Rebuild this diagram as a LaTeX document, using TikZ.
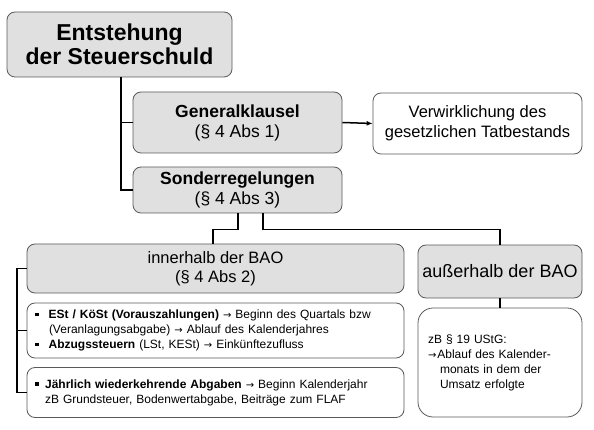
\documentclass[tikz,border=0pt]{standalone}
\usepackage{fontspec}
\setmainfont{Liberation Sans}
\newfontfamily\pfeilfont{DejaVu Sans}
\usepackage{tikz}
\usetikzlibrary{positioning, arrows.meta}
\definecolor{BoxGray}{RGB}{224,224,224}
\definecolor{LineGray}{RGB}{90,90,90}
\newcommand{\sqbullet}{\rule[0.2em]{0.3em}{0.3em}}
\newcommand{\pf}{{\pfeilfont\fontsize{10}{10}\selectfont →}}

\begin{document}
\begin{tikzpicture}[x=1pt, y=-1pt,
  box/.style={rectangle, rounded corners=8pt, draw=LineGray, line width=0.8pt, fill=BoxGray, align=center, inner sep=2pt},
  note/.style={rectangle, rounded corners=8pt, draw=LineGray, line width=0.8pt, fill=white, inner sep=2pt},
  liste/.style={note, align=left, inner xsep=8pt, text width=361pt, minimum width=377pt, font=\fontsize{12}{15}\selectfont},
  link/.style={line width=1.5pt, black},
  arrow/.style={-{Latex[length=6pt,width=5pt]}, line width=1.5pt, black}
]
\useasboundingbox (0,0) rectangle (594,430);

\node[box, minimum width=225pt, minimum height=65pt, font=\fontsize{23}{23.5}\selectfont\bfseries] (entst) at (119.5,44.5) {Entstehung\\der Steuerschuld};
\node[box, minimum width=209pt, minimum height=61pt, font=\fontsize{17.5}{20}\selectfont] (general) at (237.5,122.5) {\textbf{Generalklausel}\\(§ 4 Abs 1)};
\node[box, minimum width=209pt, minimum height=46pt, font=\fontsize{17.5}{20}\selectfont] (sonder) at (237.5,190) {\textbf{Sonderregelungen}\\(§ 4 Abs 3)};
\node[note, align=center, minimum width=209pt, minimum height=61pt, font=\fontsize{16.5}{20}\selectfont] (tatbestand) at (477.5,123.5) {Verwirklichung des\\gesetzlichen Tatbestands};

\node[box, minimum width=377pt, minimum height=49pt, font=\fontsize{16.5}{19}\selectfont] (innerhalb) at (215.5,268.5) {innerhalb der BAO\\(§ 4 Abs 2)};
\node[box, minimum width=164pt, minimum height=53pt, font=\fontsize{18}{20}\selectfont] (ausserhalb) at (500,271.5) {außerhalb der BAO};

\node[liste, minimum height=55pt] (est) at (215.5,330.5) {%
  \sqbullet\hspace{10pt}\textbf{ESt / KöSt (Vorauszahlungen)} \pf{} Beginn des Quartals bzw\\
  \hspace{14pt}(Veranlagungsabgabe) \pf{} Ablauf des Kalenderjahres\\
  \sqbullet\hspace{10pt}\textbf{Abzugssteuern} (LSt, KESt) \pf{} Einkünftezufluss};
\node[liste, minimum height=50pt] (jaehrlich) at (215.5,392.5) {%
  \sqbullet\hspace{6.5pt}\textbf{Jährlich wiederkehrende Abgaben} \pf{} Beginn Kalenderjahr\\
  \hspace{10pt}zB Grundsteuer, Bodenwertabgabe, Beiträge zum FLAF};
\node[note, rounded corners=15pt, align=left, inner xsep=10pt, text width=144pt, minimum width=164pt, minimum height=109pt, font=\fontsize{12}{15}\selectfont] (ustg) at (500,362.5) {%
  zB § 19 UStG:\\
  \pf\hspace{1pt}Ablauf des Kalender-\\
  \hspace{12pt}monats in dem der\\
  \hspace{12pt}Umsatz erfolgte};

% Verbindungen
\draw[link] (121,77) |- (general.west);
\draw[link] (121,77) |- (sonder.west);
\draw[arrow] (general.east) -- (tatbestand.west);
\draw[link] ([xshift=0.5pt]sonder.south) -- ++(0,16) -| (213,244);
\draw[link] ([xshift=25.5pt]sonder.south) -- ++(0,16) -| (ausserhalb.north);
\draw[link] (ausserhalb.south) -- (ustg.north);

% Klammer links
\coordinate (klammer) at (17,0);
\draw[link] (innerhalb.west) -| (klammer |- jaehrlich.west) -- (jaehrlich.west);
\draw[link] (klammer |- est.west) -- (est.west);
\end{tikzpicture}
\end{document}
